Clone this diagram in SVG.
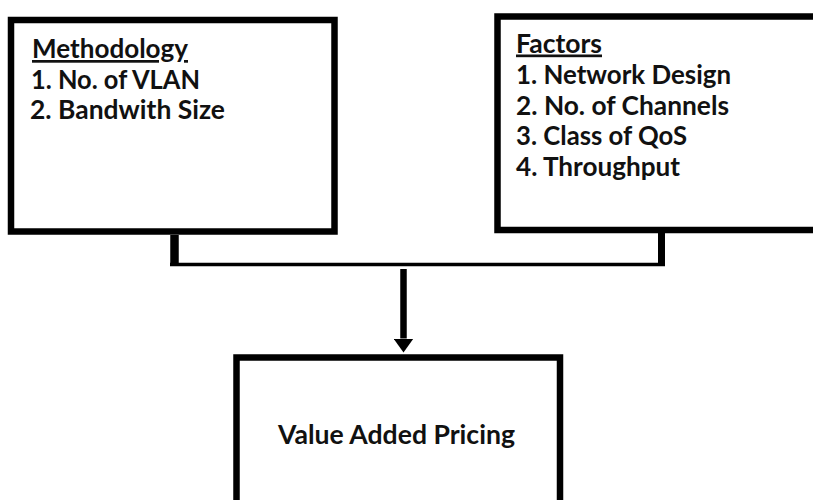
<svg xmlns="http://www.w3.org/2000/svg" width="813" height="500" viewBox="0 0 813 500">
  <style>
    .box { fill: #ffffff; stroke: #000000; stroke-width: 6.5; }
    .t { font-family: Lato, "Liberation Sans", Arial, sans-serif; font-weight: bold; font-size: 27px; fill: #111111; }
    .u { text-decoration: underline; }
    .wire { stroke: #000000; fill: none; }
  </style>
  <defs>
    <marker id="ah" markerUnits="userSpaceOnUse" markerWidth="14" markerHeight="20" refX="0" refY="10" orient="auto" viewBox="0 0 14 20">
      <path d="M0,0 L14,10 L0,20 Z" fill="#000000"/>
    </marker>
  </defs>
  <rect width="813" height="500" fill="#ffffff"/>

  <g id="connectors">
    <line class="wire" x1="174.5" y1="235" x2="174.5" y2="266" stroke-width="8.5"/>
    <line class="wire" x1="661.5" y1="233" x2="661.5" y2="266" stroke-width="7"/>
    <line class="wire" x1="170" y1="264.5" x2="665" y2="264.5" stroke-width="3.5"/>
    <line class="wire" x1="403.5" y1="269" x2="403.5" y2="338.5" stroke-width="6.5" marker-end="url(#ah)"/>
  </g>

  <g id="methodology">
    <rect class="box" x="11" y="20" width="323.5" height="211.5"/>
    <text class="t u" x="32" y="58" textLength="156" lengthAdjust="spacingAndGlyphs">Methodology</text>
    <text class="t" x="31" y="88.5" textLength="169" lengthAdjust="spacingAndGlyphs">1. No. of VLAN</text>
    <text class="t" x="30" y="118.5" textLength="195" lengthAdjust="spacingAndGlyphs">2. Bandwith Size</text>
  </g>

  <g id="factors">
    <rect class="box" x="497.5" y="16.5" width="400" height="213.5"/>
    <text class="t u" x="516" y="52.5" textLength="86" lengthAdjust="spacingAndGlyphs">Factors</text>
    <text class="t" x="516" y="84" textLength="215" lengthAdjust="spacingAndGlyphs">1. Network Design</text>
    <text class="t" x="516" y="114.5" textLength="213" lengthAdjust="spacingAndGlyphs">2. No. of Channels</text>
    <text class="t" x="516" y="145" textLength="171" lengthAdjust="spacingAndGlyphs">3. Class of QoS</text>
    <text class="t" x="516" y="175.5" textLength="164" lengthAdjust="spacingAndGlyphs">4. Throughput</text>
  </g>

  <g id="pricing">
    <rect class="box" x="236.5" y="357.5" width="323.5" height="200"/>
    <text class="t" x="278" y="444" textLength="237" lengthAdjust="spacingAndGlyphs">Value Added Pricing</text>
  </g>
</svg>
